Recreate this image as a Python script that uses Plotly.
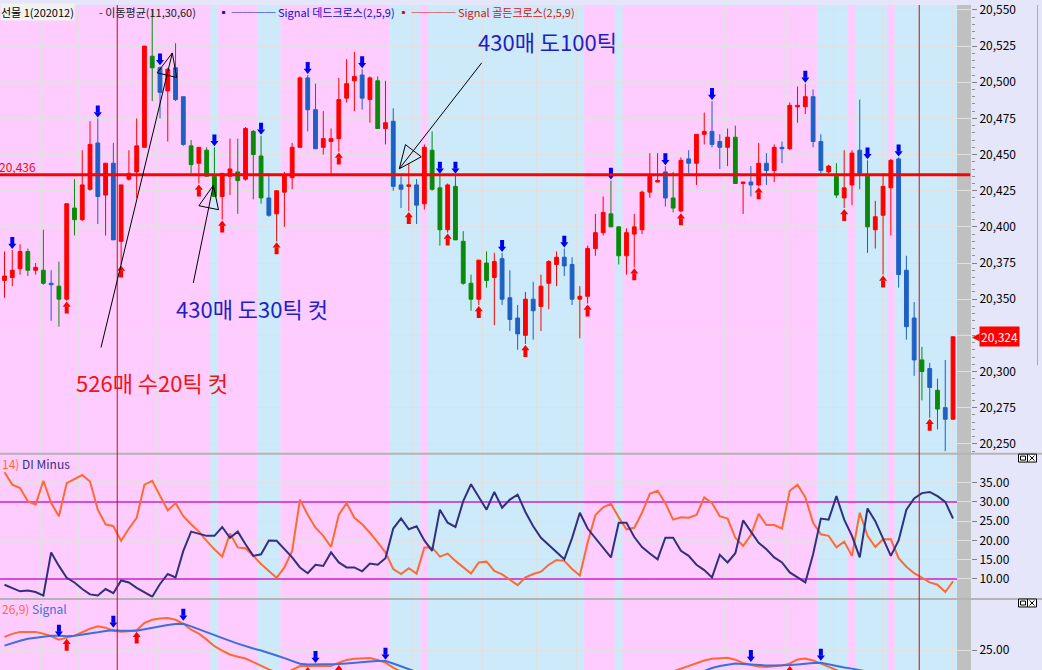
import plotly.graph_objects as go

# ------------------------------------------------------------------ data
price_open = [20363,20365,20371,20383,20370,20370,20361,20359,20350,20413,
 20405,20426,20458,20422,20444,20390,20433,20438,20455,20518,
 20510,20494,20510,20490,20456,20444,20453,20435,20421,20435,
 20438,20433,20466,20449,20420,20409,20424,20434,20455,20503,
 20481,20455,20459,20461,20489,20501,20505,20488,20501,20468,
 20473,20429,20428,20429,20416,20453,20427,20398,20428,20390,
 20361,20350,20375,20365,20378,20351,20337,20325,20350,20345,
 20361,20374,20379,20374,20350,20352,20385,20396,20409,20400,
 20380,20395,20398,20424,20431,20438,20420,20411,20447,20444,
 20464,20466,20459,20455,20462,20430,20431,20429,20444,20439,
 20455,20454,20483,20483,20490,20459,20438,20435,20420,20429,
 20453,20435,20398,20408,20427,20447,20370,20337,20308,20302,
 20287,20275,20267]
price_high = [20383,20384,20388,20385,20375,20398,20370,20376,20416,20433,
 20453,20473,20475,20444,20458,20429,20453,20475,20525,20550,
 20511,20510,20527,20490,20460,20455,20455,20455,20437,20461,
 20461,20469,20467,20463,20437,20425,20438,20458,20504,20505,
 20499,20480,20468,20503,20516,20521,20509,20504,20504,20501,
 20482,20435,20444,20433,20457,20466,20436,20430,20436,20397,
 20367,20377,20383,20382,20382,20370,20346,20355,20362,20367,
 20377,20383,20385,20379,20359,20387,20409,20421,20432,20400,
 20399,20409,20425,20451,20451,20442,20438,20448,20453,20464,
 20479,20487,20464,20468,20470,20431,20442,20458,20451,20457,
 20459,20486,20497,20499,20495,20464,20443,20444,20453,20453,
 20488,20446,20418,20437,20447,20448,20380,20348,20317,20306,
 20295,20308,20324]
price_low = [20351,20359,20367,20366,20367,20360,20335,20331,20349,20394,
 20404,20425,20402,20394,20391,20374,20432,20420,20455,20487,
 20475,20459,20487,20456,20437,20430,20435,20421,20405,20422,
 20409,20432,20419,20416,20407,20390,20400,20426,20455,20466,
 20454,20450,20435,20452,20486,20480,20481,20472,20468,20457,
 20425,20413,20411,20402,20412,20425,20387,20396,20391,20360,
 20342,20346,20358,20332,20346,20328,20315,20319,20322,20328,
 20343,20359,20366,20346,20323,20347,20380,20394,20400,20374,
 20367,20372,20395,20420,20431,20414,20410,20410,20437,20429,
 20457,20455,20440,20442,20430,20409,20421,20428,20429,20431,
 20444,20453,20472,20478,20455,20437,20437,20420,20413,20415,
 20426,20382,20385,20367,20394,20358,20322,20297,20280,20268,
 20260,20245,20267]
price_close = [20366,20370,20383,20370,20372,20361,20360,20350,20416,20405,
 20429,20457,20421,20444,20391,20429,20437,20456,20525,20510,
 20493,20509,20488,20457,20443,20455,20435,20421,20437,20440,
 20432,20468,20450,20420,20408,20425,20435,20455,20503,20481,
 20454,20461,20461,20488,20499,20504,20489,20503,20468,20472,
 20428,20426,20429,20415,20455,20426,20398,20429,20391,20361,
 20350,20377,20363,20376,20350,20336,20326,20350,20342,20359,
 20376,20379,20373,20350,20352,20385,20396,20410,20400,20380,
 20396,20400,20424,20435,20432,20420,20413,20446,20444,20464,
 20466,20457,20455,20462,20430,20431,20429,20444,20439,20455,
 20454,20484,20484,20490,20459,20439,20442,20422,20427,20451,
 20437,20400,20407,20428,20446,20367,20331,20308,20300,20289,
 20274,20267,20324]
# candle state per bar: R = rise, B = fall, G = special
candle_state = ("RRRGRGBGRG" "RRBRBRRRRG" "BRBBGRGGRR" "GRGGBRRRRB"
                "BRRRRRBRGR" "BBRBRGGRGG" "GRGRBBBRBR" "RRBBRRRRGG"
                "RRRRRBGRBR" "RBBRGRBRBR" "BRRRBBRGRR" "BGRRRBBBGB" "GBR")
buy_signal_idx = [8, 15, 25, 28, 35, 43, 52, 57, 61, 67, 75, 81, 87, 97, 108, 113, 119]
sell_signal_idx = [1, 12, 20, 27, 33, 39, 46, 56, 58, 64, 72, 78, 85, 91, 103, 111, 115]
# background trend state runs: P = pink, S = sky
trend_runs = [("P", 27), ("S", 1), ("P", 5), ("S", 3), ("P", 14), ("S", 4), ("P", 1),
              ("S", 20), ("P", 4), ("S", 1), ("P", 25), ("S", 4), ("P", 1), ("S", 4),
              ("P", 1), ("S", 8)]
di_plus = [37.7,34.5,33.6,30.2,29.3,35.5,29.7,26.3,34.9,36.0,
 37.0,35.3,28.0,24.2,23.7,19.9,23.1,25.9,34.5,35.5,
 31.5,27.8,29.7,26.3,24.2,22.3,19.9,17.7,15.8,21.8,
 18.2,18.0,16.0,13.9,12.1,10.3,13.0,17.3,30.6,26.7,
 23.3,21.2,18.3,26.7,29.7,25.9,24.2,22.0,19.5,16.9,
 12.6,11.3,12.8,11.4,18.2,18.2,15.8,16.6,14.7,13.0,
 11.4,14.3,14.5,12.1,11.2,9.8,8.4,10.4,11.3,11.9,
 13.7,14.9,14.7,12.6,10.9,19.4,26.6,28.6,29.5,26.0,
 22.9,23.3,27.2,32.1,32.9,29.7,25.4,26.0,25.9,26.6,
 31.2,29.7,26.3,25.7,20.7,18.6,21.4,26.9,24.0,24.0,
 23.1,32.9,34.5,31.2,24.6,21.6,21.2,18.2,19.7,16.0,
 27.2,21.2,18.3,20.3,20.3,15.4,13.2,11.5,10.2,9.1,
 8.5,6.6,9.4]
di_minus = [8.5,7.7,6.8,7.0,6.6,5.7,16.9,13.4,10.3,9.1,
 7.4,6.0,5.7,7.4,6.3,9.6,9.1,7.7,6.6,5.4,
 8.7,11.3,10.4,17.3,22.3,21.8,21.2,21.2,23.5,20.7,
 22.3,19.0,16.0,16.4,20.0,19.9,17.7,15.6,13.0,11.5,
 13.7,13.4,16.9,14.3,13.0,13.0,12.0,14.0,13.7,15.4,
 23.1,25.7,22.9,23.7,20.0,17.3,28.0,24.6,23.5,30.2,
 34.6,31.2,28.0,32.6,28.5,30.6,31.9,27.4,23.7,20.7,
 18.8,17.0,15.1,20.6,27.2,23.1,20.7,18.3,15.6,24.6,
 24.6,20.9,18.3,16.6,15.1,20.7,20.7,17.3,16.0,13.7,
 12.3,10.4,16.3,14.3,16.7,25.2,22.4,19.4,17.7,15.6,
 14.3,11.7,10.4,9.1,16.4,25.7,25.4,31.5,25.4,21.2,
 15.6,28.3,25.0,20.7,16.0,20.0,28.0,30.9,32.3,32.6,
 31.5,30.0,25.7]
macd_line = [31.7,33.2,34.2,34.3,34.2,33.3,32.0,30.3,31.2,32.3,
 34.0,35.8,37.0,36.3,34.8,34.3,34.5,35.0,38.7,40.3,
 41.0,41.2,40.3,38.3,35.3,33.3,30.3,27.0,24.8,22.8,
 21.7,20.8,19.0,17.0,15.3,13.7,13.3,15.0,17.0,17.0,
 17.0,16.7,17.0,18.7,20.0,20.7,21.0,21.0,20.0,18.7,
 16.2,13.7,12.0,10.0,9.0,8.0,6.0,4.5,2.8,0.0,
 -3.0,-4.0,-5.5,-6.0,-7.5,-9.5,-11.5,-11.0,-11.0,-10.0,
 -8.0,-6.0,-5.0,-5.5,-5.0,-3.0,-0.5,2.0,3.5,3.5,
 4.5,5.5,7.5,9.5,10.5,11.5,14.3,15.7,17.0,18.3,
 19.8,20.7,21.0,21.2,20.2,18.5,17.5,16.8,16.5,16.7,
 17.2,18.3,20.3,20.8,19.8,18.2,16.5,14.7,13.0,11.5,
 10.5,8.5,7.0,6.5,7.0,4.0,0.0,-4.5,-8.0,-11.0,
 -14.0,-16.5,-15.0]
macd_signal = [27.3,28.7,29.7,30.7,31.3,31.8,32.2,32.3,32.0,32.2,
 32.7,33.3,34.0,34.7,35.0,34.8,34.7,34.8,35.5,36.3,
 37.0,37.7,38.2,38.3,37.0,35.5,34.0,32.3,31.0,29.7,
 28.3,27.0,25.8,24.8,23.7,22.3,21.0,19.5,18.2,17.8,
 17.8,17.8,17.8,18.0,18.3,18.7,19.0,19.3,19.5,19.5,
 18.3,16.7,15.3,14.0,12.8,11.7,10.5,9.4,8.1,6.5,
 4.6,2.9,1.2,-0.2,-1.7,-3.3,-5.0,-6.2,-7.2,-7.7,
 -7.8,-7.4,-7.0,-6.7,-6.4,-5.7,-4.7,-3.4,-2.0,-0.9,
 0.2,1.3,2.5,4.0,5.3,6.5,8.5,10.0,11.8,13.4,
 14.8,16.0,17.0,17.8,18.3,18.0,17.7,17.3,17.3,17.3,
 17.3,17.5,17.8,18.3,18.5,18.7,17.8,17.0,16.3,15.7,
 15.0,14.2,12.8,11.6,10.7,9.4,7.5,5.1,2.5,-0.2,
 -3.0,-5.7,-7.6]
macd_buy_idx = [8, 17, 39, 43, 101]
macd_sell_idx = [7, 14, 23, 40, 49, 96, 105]
level_price = 20436
last_price = 20324
session_breaks = [14.5, 117.65]
time_grid = [4.66, 9.58, 14.51, 19.58, 41.6, 52.5, 61.5, 68.4, 73.6,
             83.7, 92.6, 100.6, 106.6, 112.9, 117.7, 121.9]
price_ticks = [20250, 20275, 20300, 20325, 20350, 20375, 20400, 20425, 20450,
               20475, 20500, 20525, 20550]
di_ticks = [10, 15, 20, 25, 30, 35]
di_levels = [30, 10]
macd_ticks = [25]

# ------------------------------------------------------------------ geometry
W, H = 1042, 670
PLOT_W = 971                       # plot area width in px
X0, X1 = -0.579, 124.31            # bar-index range of plot area
GREY_X0 = 122.51
MAIN = (0, 451, 20553.4, 20243.9)  # py_top, py_bottom, value_top, value_bottom
DI = (453, 597, 42.29, 5.18)
MC = (600, 670, 50.0, 15.0)


def dom(p):
    return [1 - p[1] / H, 1 - p[0] / H]


def unit(p):
    return (p[2] - p[3]) / (p[1] - p[0])


def P(px, py):
    return px / PLOT_W, 1 - py / H


PINK, SKY, GREYB, LAV = "#FFCCFF", "#CCEAFA", "#C0C0C0", "#E6E6FA"
RED, BLUE_C, GREEN_C = "#FF0000", "#1F60C4", "#0A8A0A"
ARROW_BLUE = "#0000F0"
ORANGE, NAVY, SIGBLUE = "#FF6A33", "#30307F", "#3B6FE0"
MAGENTA, GRID = "#CC22CC", "#E0E0E0"
FONT = "Noto Sans CJK KR"

fig = go.Figure()

# candles
col_map = {"R": RED, "B": BLUE_C, "G": GREEN_C}
for st, col in col_map.items():
    idx = [i for i, s in enumerate(candle_state) if s == st]
    fig.add_trace(go.Candlestick(
        x=idx,
        open=[price_open[i] for i in idx], high=[price_high[i] for i in idx],
        low=[price_low[i] for i in idx], close=[price_close[i] for i in idx],
        increasing=dict(line=dict(color=col, width=1), fillcolor=col),
        decreasing=dict(line=dict(color=col, width=1), fillcolor=col),
        whiskerwidth=0, hoverinfo="skip", xaxis="x", yaxis="y"))


def add_arrows(idx, anchors, up, color, yaxis, u):
    sgn = -1 if up else 1
    head = [a + sgn * 4.5 * u for a in anchors]
    stem = [a + sgn * 9.5 * u for a in anchors]
    fig.add_trace(go.Scatter(x=idx, y=stem, mode="markers", yaxis=yaxis, xaxis="x",
                             hoverinfo="skip",
                             marker=dict(symbol="line-ns", size=5,
                                         line=dict(width=4, color=color))))
    fig.add_trace(go.Scatter(x=idx, y=head, mode="markers", yaxis=yaxis, xaxis="x",
                             hoverinfo="skip",
                             marker=dict(symbol="triangle-up" if up else "triangle-down",
                                         size=7, color=color, line=dict(width=0))))


um = unit(MAIN)
add_arrows(buy_signal_idx, [price_low[i] for i in buy_signal_idx], True, RED, "y", um)
add_arrows(sell_signal_idx, [price_high[i] for i in sell_signal_idx], False, ARROW_BLUE, "y", um)

# DI lines
xs = list(range(len(price_open)))
fig.add_trace(go.Scatter(x=xs, y=di_plus, mode="lines", line=dict(color=ORANGE, width=2),
                         xaxis="x", yaxis="y2", hoverinfo="skip"))
fig.add_trace(go.Scatter(x=xs, y=di_minus, mode="lines", line=dict(color=NAVY, width=2),
                         xaxis="x", yaxis="y2", hoverinfo="skip"))

# MACD lines
fig.add_trace(go.Scatter(x=xs, y=macd_line, mode="lines", line=dict(color=ORANGE, width=2),
                         xaxis="x", yaxis="y3", hoverinfo="skip"))
fig.add_trace(go.Scatter(x=xs, y=macd_signal, mode="lines", line=dict(color=SIGBLUE, width=2),
                         xaxis="x", yaxis="y3", hoverinfo="skip"))
uc = unit(MC)
mins = [min(macd_line[i], macd_signal[i]) for i in range(len(xs))]
add_arrows(macd_buy_idx, [mins[i] for i in macd_buy_idx], True, RED, "y3", uc)
add_arrows(macd_sell_idx, [mins[i] + 2 * uc for i in macd_sell_idx], False, ARROW_BLUE, "y3", uc)

# ------------------------------------------------------------------ shapes
shapes = []
states = []
for s, n in trend_runs:
    states += [s] * n
start = 0
for i in range(1, len(states) + 1):
    if i == len(states) or states[i] != states[start]:
        x0 = X0 if start == 0 else start - 0.5
        shapes.append(dict(type="rect", xref="x", yref="paper", x0=x0, x1=i - 0.5,
                           y0=0, y1=1, fillcolor=PINK if states[start] == "P" else SKY,
                           line=dict(width=0), layer="below"))
        start = i
shapes.append(dict(type="rect", xref="x", yref="paper", x0=GREY_X0, x1=X1, y0=0, y1=1,
                   fillcolor=GREYB, line=dict(width=0), layer="below"))

# panel separators
for py in (452, 598.5):
    shapes.append(dict(type="line", xref="paper", yref="paper", x0=0, x1=W / PLOT_W,
                       y0=1 - py / H, y1=1 - py / H, line=dict(color="#B4B4B4", width=2)))
# scrollbar edge on the right
shapes.append(dict(type="line", xref="paper", yref="paper", x0=1037.5 / PLOT_W,
                   x1=1037.5 / PLOT_W, y0=1 - 363 / H, y1=1, line=dict(color="#A8A8B8", width=1)))

# DI reference levels
for lv in di_levels:
    shapes.append(dict(type="line", xref="x", yref="y2", x0=X0, x1=GREY_X0, y0=lv, y1=lv,
                       line=dict(color=MAGENTA, width=1.5), layer="between"))
# horizontal price level
shapes.append(dict(type="line", xref="x", yref="y", x0=X0, x1=X1 - 0.1, y0=level_price,
                   y1=level_price, line=dict(color=RED, width=3), layer="above"))
# session separators
for sb in session_breaks:
    shapes.append(dict(type="line", xref="x", yref="paper", x0=sb, x1=sb, y0=0, y1=1,
                       line=dict(color="#C01010", width=1), layer="above"))


# drawn note arrows (open triangle heads)
def note_arrow(tail, tip):
    tx, ty = tip
    dx, dy = tip[0] - tail[0], tip[1] - tail[1]
    ln = (dx * dx + dy * dy) ** 0.5
    ux, uy = dx / ln, dy / ln
    bx, by = tx - 23 * ux, ty - 23 * uy
    px_, py_ = -uy, ux
    c1 = (bx + 10 * px_, by + 10 * py_)
    c2 = (bx - 10 * px_, by - 10 * py_)
    a = P(*tail)
    b = P(*tip)
    shapes.append(dict(type="line", xref="paper", yref="paper", x0=a[0], y0=a[1],
                       x1=b[0], y1=b[1], line=dict(color="black", width=1)))
    pts = [P(tx, ty), P(*c1), P(*c2)]
    path = "M {} {} L {} {} L {} {} Z".format(pts[0][0], pts[0][1], pts[1][0], pts[1][1],
                                               pts[2][0], pts[2][1])
    shapes.append(dict(type="path", xref="paper", yref="paper", path=path,
                       line=dict(color="black", width=1), fillcolor="rgba(0,0,0,0)"))


note_arrow((101, 345), (172.3, 48.3))
note_arrow((193.3, 280), (213.3, 181.7))
note_arrow((481.7, 58.3), (399.3, 165))


# small window icons
def icon(px, py):
    def rect(x0, y0, x1, y1, fill):
        a, b = P(x0, y0), P(x1, y1)
        shapes.append(dict(type="rect", xref="paper", yref="paper", x0=a[0], y0=b[1],
                           x1=b[0], y1=a[1], line=dict(color="black", width=1),
                           fillcolor=fill))

    def seg(x0, y0, x1, y1):
        a, b = P(x0, y0), P(x1, y1)
        shapes.append(dict(type="line", xref="paper", yref="paper", x0=a[0], y0=a[1],
                           x1=b[0], y1=b[1], line=dict(color="black", width=1)))
    rect(px, py, px + 9, py + 8, "white")
    rect(px + 2, py + 2, px + 7, py + 6, "rgba(0,0,0,0)")
    rect(px + 9, py, px + 18, py + 8, "white")
    seg(px + 11, py + 1.5, px + 16, py + 6.5)
    seg(px + 11, py + 6.5, px + 16, py + 1.5)


icon(1018.5, 452.5)
icon(1018.5, 598.5)

# ------------------------------------------------------------------ annotations
ann = []


def text(px, py, s, color, size, xanchor="left", bg=None, font=FONT):
    x, y = P(px, py)
    d = dict(xref="paper", yref="paper", x=x, y=y, text=s, showarrow=False,
             xanchor=xanchor, yanchor="middle", font=dict(family=font, size=size, color=color))
    if bg:
        d.update(bgcolor=bg, borderpad=0)
    ann.append(d)


text(476, 36, "430매 도100틱", "#1F1FC4", 22)
text(174, 305, "430매 도30틱 컷", "#1F1FC4", 22)
text(74, 380, "526매 수20틱 컷", "#F01414", 22)
text(-3, 163, "20,436", "#E01010", 12)
text(0, 461.5, "14) <span style='color:%s'>DI Minus</span>" % NAVY, ORANGE, 12)
text(0, 608.5, "26,9) <span style='color:%s'>Signal</span>" % SIGBLUE, ORANGE, 12)
# header line along the top edge
text(0, 7.5, "선물 1(202012)", "black", 11, bg="#F2F2F2")
text(97, 7.5, "- 이동평균(11,30,60)", "#202020", 11)
text(216, 7.5, "▪ ──── Signal 데드크로스(2,5,9)", "#1010D0", 11)
text(396, 7.5, "▪ ──── Signal 골든크로스(2,5,9)", "#E01010", 11)
# last price marker on the axis
ann.append(dict(xref="paper", yref="y", x=979 / PLOT_W, y=last_price, text="20,324",
                showarrow=False, xanchor="left", yanchor="middle", bgcolor=RED,
                borderpad=1, font=dict(family=FONT, size=12, color="white")))
ann.append(dict(xref="paper", yref="y", x=970 / PLOT_W, y=last_price, text="◀",
                showarrow=False, xanchor="left", yanchor="middle",
                font=dict(family="DejaVu Sans", size=10, color=RED)))

# the tick label hidden by the last-price box is left out; its grid line stays
shown_price_ticks = [t for t in price_ticks if abs(t - last_price) > 5]
for t in price_ticks:
    if t not in shown_price_ticks:
        shapes.append(dict(type="line", xref="x", yref="y", x0=X0, x1=X1, y0=t, y1=t,
                           line=dict(color=GRID, width=1), layer="between"))

axis_font = dict(family=FONT, size=12, color="black")
fig.update_layout(
    width=W, height=H, margin=dict(l=0, r=W - PLOT_W, t=0, b=0),
    paper_bgcolor=LAV, plot_bgcolor="rgba(0,0,0,0)", showlegend=False,
    hovermode=False, boxgap=0.3,
    shapes=shapes, annotations=ann,
    xaxis=dict(domain=[0, 1], range=[X0, X1], anchor="y3", showticklabels=False,
               ticks="", tickmode="array", tickvals=time_grid, showgrid=True,
               gridcolor=GRID, gridwidth=1, zeroline=False, showline=False,
               rangeslider=dict(visible=False), fixedrange=True),
    yaxis=dict(domain=dom(MAIN), range=[MAIN[3], MAIN[2]], side="right", anchor="x",
               tickmode="array", tickvals=shown_price_ticks, tickformat=",d",
               ticks="outside", ticklen=5, ticklabeloverflow="allow",
               tickcolor="#808080", showgrid=True, gridcolor=GRID, zeroline=False,
               tickfont=axis_font,
               minor=dict(ticks="outside", ticklen=3, tickmode="linear", dtick=5,
                          tick0=20250, tickcolor="#909090", showgrid=False)),
    yaxis2=dict(domain=dom(DI), range=[DI[3], DI[2]], side="right", anchor="x",
                tickmode="array", tickvals=di_ticks, tickformat=".2f",
                ticks="outside", ticklen=5, tickcolor="#808080", showgrid=True,
                gridcolor=GRID, zeroline=False, tickfont=axis_font),
    yaxis3=dict(domain=dom(MC), range=[MC[3], MC[2]], side="right", anchor="x",
                tickmode="array", tickvals=macd_ticks, tickformat=".2f", ticks="outside",
                ticklen=5, tickcolor="#808080", showgrid=True, gridcolor=GRID,
                zeroline=False, tickfont=axis_font),
)

fig.write_html("out.html", config={"displayModeBar": False, "staticPlot": True},
               post_script="document.body.style.margin='0';"
                           "document.body.style.overflow='hidden';")
